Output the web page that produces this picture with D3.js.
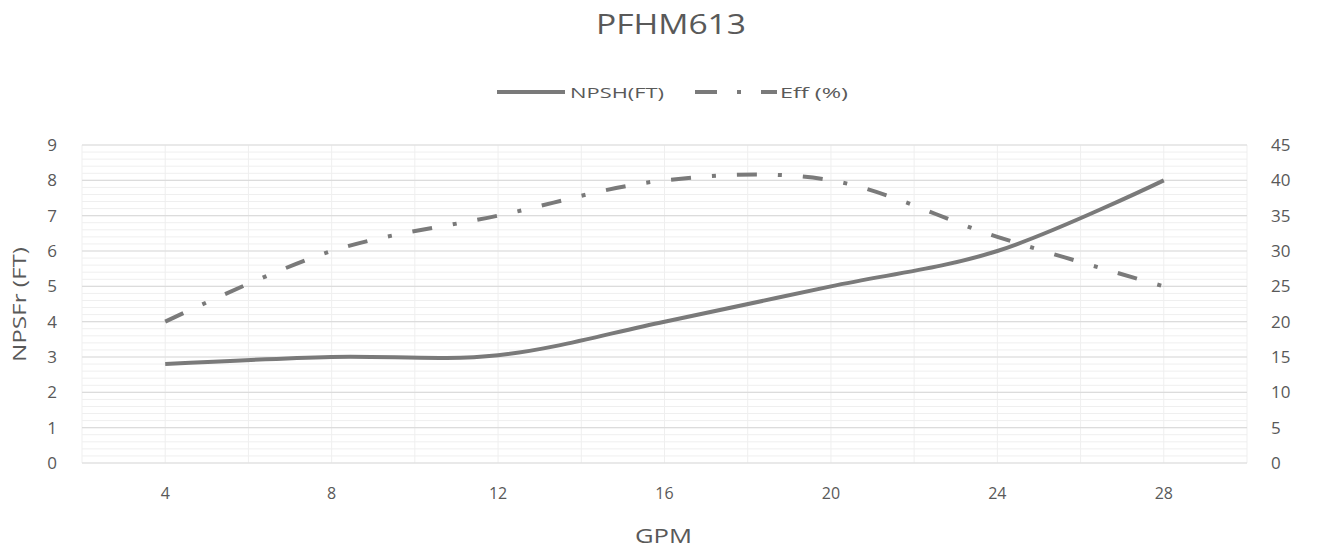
<!DOCTYPE html>
<html><head><meta charset="utf-8">
<script src="https://cdn.jsdelivr.net/npm/d3@7/dist/d3.min.js"></script>
<style>body{margin:0;background:#fff;} text{font-family:"Open Sans","Noto Sans",sans-serif;fill:#595959;}</style>
</head><body><svg id="c" width="1317" height="550"></svg>
<script>
const gpm = [4, 8, 12, 16, 20, 24, 28];
const npsh = [2.8, 3.0, 3.05, 4.0, 5.0, 6.0, 8.0];
const eff = [20, 30, 35, 40, 40, 32, 25];
const xTicks = [4, 8, 12, 16, 20, 24, 28];
const leftTicks = [0,1,2,3,4,5,6,7,8,9];
const rightTicks = [0,5,10,15,20,25,30,35,40,45];
const title = "PFHM613";
const seriesNames = ["NPSH(FT)", "Eff (%)"];
const xTitle = "GPM";
const yTitle = "NPSFr (FT)";

const svg = d3.select("#c");
const L = 82, R = 1247, T = 145, B = 463;
const x = d3.scaleLinear().domain([2, 30]).range([L, R]);
const yL = d3.scaleLinear().domain([0, 9]).range([B, T]);
const yR = d3.scaleLinear().domain([0, 45]).range([B, T]);

// minor gridlines
const minor = d3.range(0, 9.001, 0.2);
svg.append("g").selectAll("line").data(minor).join("line")
  .attr("x1", L).attr("x2", R).attr("y1", d => yL(d)).attr("y2", d => yL(d))
  .attr("stroke", "#efefef").attr("stroke-width", 1);
// vertical gridlines
svg.append("g").selectAll("line").data(d3.range(2, 30.001, 2)).join("line")
  .attr("x1", d => x(d)).attr("x2", d => x(d)).attr("y1", T).attr("y2", B)
  .attr("stroke", "#efefef").attr("stroke-width", 1);
// major gridlines
svg.append("g").selectAll("line").data(leftTicks).join("line")
  .attr("x1", L).attr("x2", R).attr("y1", d => yL(d)).attr("y2", d => yL(d))
  .attr("stroke", "#dcdcdc").attr("stroke-width", 1.2);

// axes labels
svg.append("g").selectAll("text").data(leftTicks).join("text")
  .attr("x", 57).attr("y", d => yL(d) + 6).attr("text-anchor", "end")
  .attr("font-size", 17).text(d => d);
svg.append("g").selectAll("text").data(rightTicks).join("text")
  .attr("x", 1271).attr("y", d => yR(d) + 6).attr("text-anchor", "start")
  .attr("font-size", 17).text(d => d);
svg.append("g").selectAll("text").data(xTicks).join("text")
  .attr("x", d => x(d)).attr("y", 499).attr("text-anchor", "middle")
  .attr("font-size", 16).text(d => d);

svg.append("text").attr("x", 635).attr("y", 543)
  .attr("font-size", 20).attr("textLength", 57).attr("lengthAdjust", "spacingAndGlyphs").text(xTitle);
svg.append("text").attr("transform", "translate(26,362) rotate(-90)")
  .attr("font-size", 18).attr("textLength", 115).attr("lengthAdjust", "spacingAndGlyphs").text(yTitle);
svg.append("text").attr("x", 596).attr("y", 34)
  .attr("font-size", 27).attr("textLength", 150).attr("lengthAdjust", "spacingAndGlyphs").text(title);

const curve = d3.curveCatmullRom.alpha(0);
const lineN = d3.line().x((d, i) => x(gpm[i])).y(d => yL(d)).curve(curve);
const lineE = d3.line().x((d, i) => x(gpm[i])).y(d => yR(d)).curve(curve);
const col = "#7a7a7a";
svg.append("path").attr("d", lineE(eff)).attr("fill", "none").attr("stroke", col)
  .attr("stroke-width", 4).attr("stroke-dasharray", "20,21,4,21");
svg.append("path").attr("d", lineN(npsh)).attr("fill", "none").attr("stroke", col)
  .attr("stroke-width", 4);

// legend
const lg = svg.append("g");
lg.append("line").attr("x1", 497).attr("x2", 565).attr("y1", 92).attr("y2", 92)
  .attr("stroke", col).attr("stroke-width", 4);
lg.append("text").attr("x", 570).attr("y", 98).attr("font-size", 15)
  .attr("textLength", 94).attr("lengthAdjust", "spacingAndGlyphs").text(seriesNames[0]);
lg.append("line").attr("x1", 695).attr("x2", 777).attr("y1", 92).attr("y2", 92)
  .attr("stroke", col).attr("stroke-width", 4).attr("stroke-dasharray", "22,20,4,20");
lg.append("text").attr("x", 780).attr("y", 98).attr("font-size", 15)
  .attr("textLength", 68).attr("lengthAdjust", "spacingAndGlyphs").text(seriesNames[1]);
</script></body></html>
